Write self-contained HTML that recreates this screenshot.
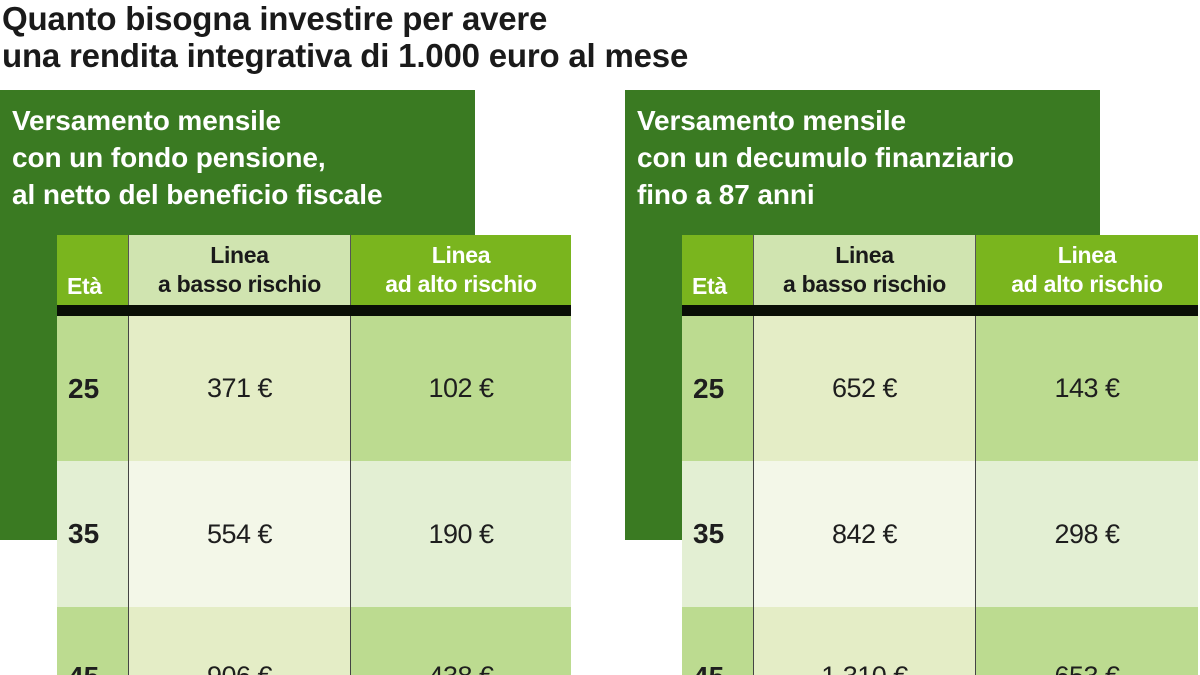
<!DOCTYPE html>
<html><head><meta charset="utf-8"><style>
html,body{margin:0;width:1200px;height:675px;overflow:hidden;}
body{background:#fff;position:relative;font-family:"Liberation Sans Narrow","Liberation Sans",sans-serif;}
.t{position:absolute;left:2px;top:0;font-weight:bold;font-size:33px;line-height:37px;color:#1a1a1a;letter-spacing:-0.2px}
.box{position:absolute;top:90px;width:475px;height:450px;background:#3a7a22}
.bt{position:absolute;top:102px;color:#fff;font-weight:bold;font-size:28px;line-height:37px;letter-spacing:-0.1px}
.tb{position:absolute;top:235px;}
.c{position:absolute;display:flex;align-items:center;justify-content:center;text-align:center;box-sizing:border-box;overflow:hidden}
.h{font-weight:bold;font-size:23px;line-height:29px;letter-spacing:-0.3px}
.n{font-size:27px;color:#1e1e1e;letter-spacing:-0.5px}
.e{font-weight:bold;font-size:28px;justify-content:flex-start;padding-left:11px;color:#1e1e1e}
.r3{align-items:flex-start;padding-top:54px}
</style></head><body>
<div class="t">Quanto bisogna investire per avere<br>una rendita integrativa di 1.000 euro al mese</div>

<div class="box" style="left:0"></div>
<div class="bt" style="left:12px">Versamento mensile<br>con un fondo pensione,<br>al netto del beneficio fiscale</div>
<div class="box" style="left:625px"></div>
<div class="bt" style="left:637px">Versamento mensile<br>con un decumulo finanziario<br>fino a 87 anni</div>

<div class="tb" style="left:57px">
 <div class="c h" style="left:0;top:0;width:71px;height:70px;background:#7ab51e;color:#fff;align-items:flex-end;padding-bottom:4px;justify-content:flex-start;padding-left:10px">Età</div>
 <div class="c h" style="left:71px;top:0;width:222px;height:70px;background:#d0e4b0;color:#1a1a1a;border-left:1px solid #555">Linea<br>a basso rischio</div>
 <div class="c h" style="left:293px;top:0;width:221px;height:70px;background:#7ab51e;color:#fff;border-left:1px solid #555">Linea<br>ad alto rischio</div>
 <div class="c" style="left:0;top:70px;width:514px;height:11px;background:#0a0f06"></div>
 <div class="c e" style="left:0;top:81px;width:71px;height:145px;background:#bcdb90">25</div>
 <div class="c n" style="left:71px;top:81px;width:222px;height:145px;background:#e4edc6;border-left:1px solid #444">371 €</div>
 <div class="c n" style="left:293px;top:81px;width:221px;height:145px;background:#bcdb90;border-left:1px solid #444">102 €</div>
 <div class="c e" style="left:0;top:226px;width:71px;height:146px;background:#e3efd3">35</div>
 <div class="c n" style="left:71px;top:226px;width:222px;height:146px;background:#f3f7e8;border-left:1px solid #444">554 €</div>
 <div class="c n" style="left:293px;top:226px;width:221px;height:146px;background:#e3efd3;border-left:1px solid #444">190 €</div>
 <div class="c e r3" style="left:0;top:372px;width:71px;height:68px;background:#bcdb90">45</div>
 <div class="c n r3" style="left:71px;top:372px;width:222px;height:68px;background:#e4edc6;border-left:1px solid #444">906 €</div>
 <div class="c n r3" style="left:293px;top:372px;width:221px;height:68px;background:#bcdb90;border-left:1px solid #444">438 €</div>
</div>

<div class="tb" style="left:682px">
 <div class="c h" style="left:0;top:0;width:71px;height:70px;background:#7ab51e;color:#fff;align-items:flex-end;padding-bottom:4px;justify-content:flex-start;padding-left:10px">Età</div>
 <div class="c h" style="left:71px;top:0;width:222px;height:70px;background:#d0e4b0;color:#1a1a1a;border-left:1px solid #555">Linea<br>a basso rischio</div>
 <div class="c h" style="left:293px;top:0;width:223px;height:70px;background:#7ab51e;color:#fff;border-left:1px solid #555">Linea<br>ad alto rischio</div>
 <div class="c" style="left:0;top:70px;width:516px;height:11px;background:#0a0f06"></div>
 <div class="c e" style="left:0;top:81px;width:71px;height:145px;background:#bcdb90">25</div>
 <div class="c n" style="left:71px;top:81px;width:222px;height:145px;background:#e4edc6;border-left:1px solid #444">652 €</div>
 <div class="c n" style="left:293px;top:81px;width:223px;height:145px;background:#bcdb90;border-left:1px solid #444">143 €</div>
 <div class="c e" style="left:0;top:226px;width:71px;height:146px;background:#e3efd3">35</div>
 <div class="c n" style="left:71px;top:226px;width:222px;height:146px;background:#f3f7e8;border-left:1px solid #444">842 €</div>
 <div class="c n" style="left:293px;top:226px;width:223px;height:146px;background:#e3efd3;border-left:1px solid #444">298 €</div>
 <div class="c e r3" style="left:0;top:372px;width:71px;height:68px;background:#bcdb90">45</div>
 <div class="c n r3" style="left:71px;top:372px;width:222px;height:68px;background:#e4edc6;border-left:1px solid #444">1.310 €</div>
 <div class="c n r3" style="left:293px;top:372px;width:223px;height:68px;background:#bcdb90;border-left:1px solid #444">653 €</div>
</div>
</body></html>
